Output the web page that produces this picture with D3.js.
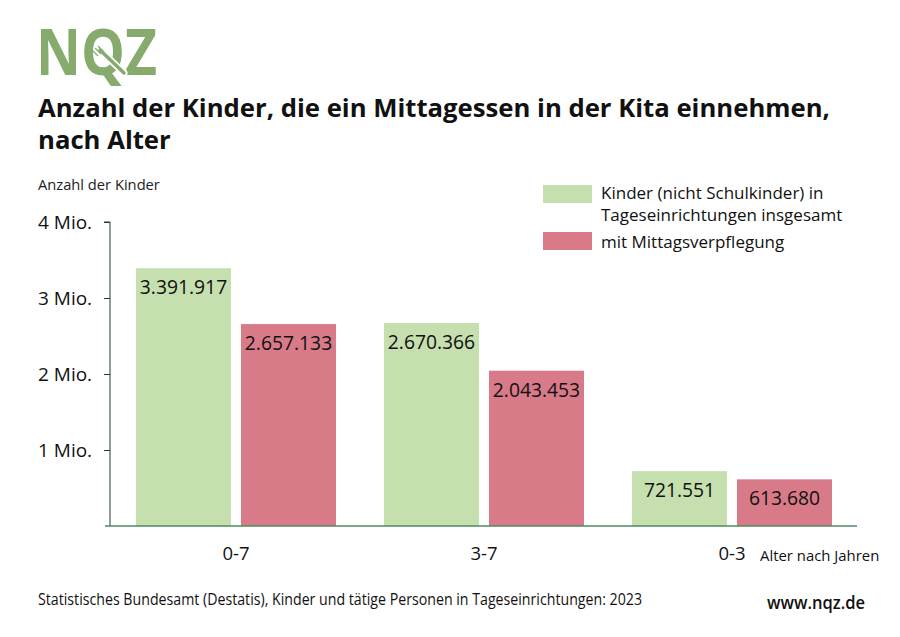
<!DOCTYPE html>
<html>
<head>
<meta charset="utf-8">
<script src="https://cdn.jsdelivr.net/npm/d3@7"></script>
<style>
  html, body { margin: 0; padding: 0; background: #fff; }
  svg { display: block; font-family: "Open Sans", sans-serif; }
</style>
</head>
<body>
<svg id="chart" width="900" height="637"></svg>
<script>
const categories = ["0-7", "3-7", "0-3"];
const seriesNames = ["Kinder (nicht Schulkinder) in Tageseinrichtungen insgesamt", "mit Mittagsverpflegung"];
const totalValues = [3391917, 2670366, 721551];
const mealValues = [2657133, 2043453, 613680];
const yTicks = [1000000, 2000000, 3000000, 4000000];
const yTickLabels = ["1 Mio.", "2 Mio.", "3 Mio.", "4 Mio."];

const colors = ["#c5dfae", "#d87a88"];
const svg = d3.select("#chart");

// Logo
const logoGreen = "#86ab6c";
const logo = svg.append("g");
logo.append("text").attr("x", 36).attr("y", 75)
  .attr("font-family", "Open Sans").attr("font-weight", 700)
  .attr("font-size", 64).attr("fill", logoGreen)
  .attr("textLength", 121).attr("lengthAdjust", "spacingAndGlyphs")
  .text("NQZ");
// fork / knife in the Q
logo.append("line").attr("x1", 100).attr("y1", 50).attr("x2", 124).attr("y2", 73)
  .attr("stroke", "#fff").attr("stroke-width", 7).attr("stroke-linecap", "round");
logo.append("line").attr("x1", 100).attr("y1", 50).attr("x2", 124).attr("y2", 73)
  .attr("stroke", logoGreen).attr("stroke-width", 3.5).attr("stroke-linecap", "round");
[[-3, 2], [0, 0], [3, -2]].forEach(o => {
  logo.append("line").attr("x1", 95 + o[0]).attr("y1", 48 + o[1])
    .attr("x2", 101 + o[0]).attr("y2", 54 + o[1])
    .attr("stroke", logoGreen).attr("stroke-width", 1.3);
});

// Title
svg.append("text").attr("x", 38).attr("y", 117)
  .attr("font-weight", 700).attr("font-size", 25.7).attr("fill", "#111")
  .text("Anzahl der Kinder, die ein Mittagessen in der Kita einnehmen,");
svg.append("text").attr("x", 38).attr("y", 149)
  .attr("font-weight", 700).attr("font-size", 25.7).attr("fill", "#111")
  .text("nach Alter");

svg.append("text").attr("x", 38).attr("y", 190)
  .attr("font-size", 14.7).attr("fill", "#222").text("Anzahl der Kinder");

// Scales
const y = d3.scaleLinear().domain([0, 4000000]).range([526, 222]);
const x0 = d3.scaleBand().domain(categories).range([112, 856]).paddingInner(0.1935).paddingOuter(0.0968);
const x1 = d3.scaleBand().domain([0, 1]).range([0, x0.bandwidth()]).paddingInner(0.0952);

// Y axis
const yAxis = d3.axisLeft(y).tickValues(yTicks).tickSize(6).tickFormat("");
const yg = svg.append("g").attr("transform", "translate(110,0)").call(yAxis);
yg.select(".domain").attr("stroke", "#1f3d2c").attr("d", "M-6," + y(4000000) + "H0V" + y(0));
yg.selectAll(".tick line").attr("stroke", "#1f3d2c");

svg.selectAll(".ylab").data(yTicks).enter().append("text")
  .attr("class", "ylab").attr("x", 38).attr("y", d => y(d) + 7)
  .attr("font-size", 19).attr("fill", "#111")
  .text((d, i) => yTickLabels[i]);

// Bars
const groups = svg.selectAll(".grp").data(categories).enter().append("g")
  .attr("transform", d => `translate(${x0(d)},0)`);
const fmt = v => d3.format(",")(v).replace(/,/g, ".");
groups.each(function(c, i) {
  const g = d3.select(this);
  const vals = [totalValues[i], mealValues[i]];
  vals.forEach((v, s) => {
    g.append("rect").attr("x", x1(s)).attr("y", y(v))
      .attr("width", x1.bandwidth()).attr("height", y(0) - y(v))
      .attr("fill", colors[s]);
    g.append("text").attr("x", x1(s) + x1.bandwidth() / 2).attr("y", y(v) + 26)
      .attr("text-anchor", "middle").attr("font-size", 19.3).attr("fill", "#111")
      .text(fmt(v));
  });
});

// Baseline
svg.append("line").attr("x1", 105).attr("x2", 857).attr("y1", y(0)).attr("y2", y(0))
  .attr("stroke", "#4f8a62").attr("stroke-width", 1.5);

// X axis labels
const xAxis = d3.axisBottom(x0).tickSize(0).tickPadding(0);
const xg = svg.append("g").attr("transform", `translate(0,${y(0)})`).call(xAxis);
xg.select(".domain").remove();
xg.selectAll(".tick text").attr("font-size", 18.5).attr("fill", "#111")
  .attr("font-family", "Open Sans").attr("dy", 0).attr("y", 34);

svg.append("text").attr("x", 760).attr("y", 561)
  .attr("font-size", 14.9).attr("fill", "#111").text("Alter nach Jahren");

// Legend
const legend = svg.append("g");
legend.append("rect").attr("x", 543).attr("y", 185).attr("width", 49).attr("height", 18).attr("fill", colors[0]);
legend.append("text").attr("x", 601).attr("y", 199).attr("font-size", 17).attr("fill", "#111").text("Kinder (nicht Schulkinder) in");
legend.append("text").attr("x", 601).attr("y", 221).attr("font-size", 17).attr("fill", "#111").text("Tageseinrichtungen insgesamt");
legend.append("rect").attr("x", 543).attr("y", 232).attr("width", 49).attr("height", 18).attr("fill", colors[1]);
legend.append("text").attr("x", 601).attr("y", 248).attr("font-size", 17).attr("fill", "#111").text(seriesNames[1]);

// Footer
svg.append("text").attr("x", 38).attr("y", 605).attr("font-size", 15.5).attr("fill", "#111")
  .attr("textLength", 604).attr("lengthAdjust", "spacingAndGlyphs")
  .text("Statistisches Bundesamt (Destatis), Kinder und tätige Personen in Tageseinrichtungen: 2023");
svg.append("text").attr("x", 767).attr("y", 609).attr("font-size", 18.5).attr("font-weight", 600).attr("fill", "#111")
  .attr("textLength", 98).attr("lengthAdjust", "spacingAndGlyphs")
  .text("www.nqz.de");
</script>
</body>
</html>
